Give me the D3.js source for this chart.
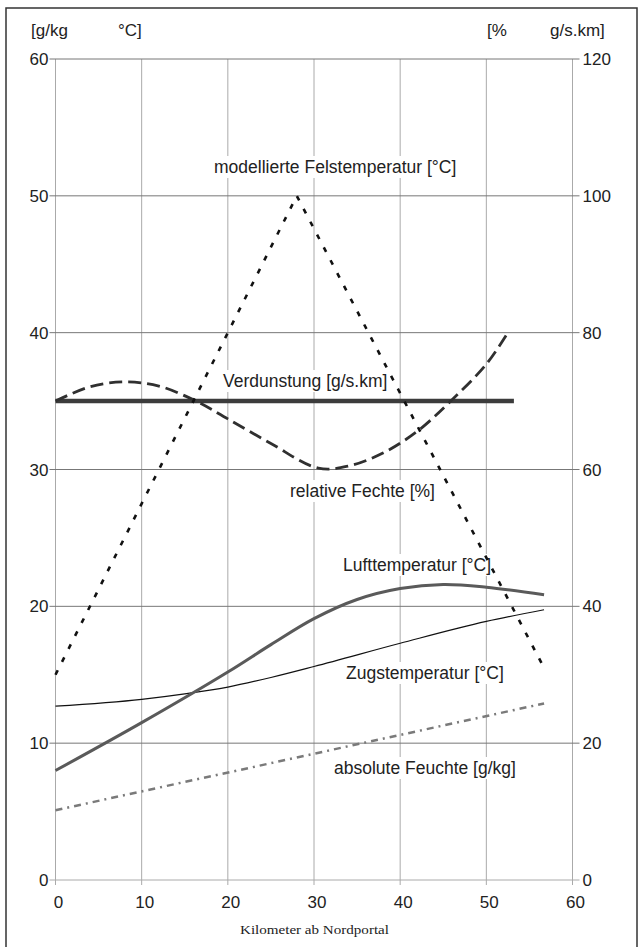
<!DOCTYPE html>
<html>
<head>
<meta charset="utf-8">
<script src="https://cdn.jsdelivr.net/npm/d3@7.9.0/dist/d3.min.js"></script>
<style>
  body { margin: 0; background: #fff; }
  svg text { font-family: "Liberation Sans", Arial, sans-serif; fill: #222; }
</style>
</head>
<body>
<svg id="chart" width="643" height="947"></svg>
<script>
// ticks
const xTicks = [0, 10, 20, 30, 40, 50, 60];
const leftTicks = [0, 10, 20, 30, 40, 50, 60];
const rightTicks = [0, 20, 40, 60, 80, 100, 120];

// modellierte Felstemperatur [°C] (left axis)
const felsKm = [0, 28, 56.7];
const felsTemp = [15, 50, 15.5];

// Verdunstung [g/s.km] (right axis)
const verdKm = [0, 53.2];
const verdunstung = [70, 70];

// relative Feuchte [%] (right axis)
const relKm = [0, 4, 8, 12, 16.3, 20, 25, 30.5, 34, 38, 42, 45.7, 50, 52.6];
const relFeuchte = [70, 72.1, 72.8, 72.2, 70, 67.4, 63.8, 60.2, 60.5, 62.4, 65.6, 69.8, 75.4, 80.2];

// Lufttemperatur [°C] (left axis)
const luftKm = [0, 10, 20, 25, 30, 35, 40, 45, 50, 56.7];
const luftTemp = [8, 11.5, 15.2, 17.2, 19.1, 20.5, 21.3, 21.6, 21.4, 20.85];

// Zugstemperatur [°C] (left axis)
const zugKm = [0, 10, 15, 20, 25, 30, 40, 50, 56.7];
const zugTemp = [12.7, 13.2, 13.6, 14.1, 14.8, 15.6, 17.3, 18.9, 19.75];

// absolute Feuchte [g/kg] (left axis)
const absKm = [0, 56.7];
const absFeuchte = [5.1, 12.9];

const svg = d3.select('#chart');

// frame around the whole figure
svg.append('rect')
  .attr('x', 6).attr('y', 8).attr('width', 631).attr('height', 945)
  .attr('fill', 'none').attr('stroke', '#333').attr('stroke-width', 1.5);

const x = d3.scaleLinear().domain([0, 60]).range([55.5, 572.5]);
const yL = d3.scaleLinear().domain([0, 60]).range([880, 59]);
const yR = d3.scaleLinear().domain([0, 120]).range([880, 59]);

// grid
svg.append('g').selectAll('line').data(xTicks).join('line')
  .attr('x1', d => x(d)).attr('x2', d => x(d))
  .attr('y1', yL(60)).attr('y2', yL(0) + 5)
  .attr('stroke', '#aaa').attr('stroke-width', 1);

svg.append('g').selectAll('line').data(leftTicks).join('line')
  .attr('x1', x(0) - 6).attr('x2', x(60) + 7)
  .attr('y1', d => yL(d)).attr('y2', d => yL(d))
  .attr('stroke', d => d === 0 ? '#aaa' : '#777').attr('stroke-width', 1);

// tick labels
svg.append('g').selectAll('text').data(leftTicks).join('text')
  .attr('x', x(0) - 7).attr('y', d => yL(d) + 6)
  .attr('text-anchor', 'end').attr('font-size', 17)
  .text(d => d);

svg.append('g').selectAll('text').data(rightTicks).join('text')
  .attr('x', x(60) + 10).attr('y', d => yR(d) + 6)
  .attr('text-anchor', 'start').attr('font-size', 17)
  .text(d => d);

svg.append('g').selectAll('text').data(xTicks).join('text')
  .attr('x', d => x(d) + 3).attr('y', 908)
  .attr('text-anchor', 'middle').attr('font-size', 17)
  .text(d => d);

// unit headers
const headers = [
  ['[g/kg', 31], ['°C]', 118], ['[%', 487], ['g/s.km]', 550]
];
svg.append('g').selectAll('text').data(headers).join('text')
  .attr('x', d => d[1]).attr('y', 36)
  .attr('font-size', 17)
  .text(d => d[0]);

svg.append('text')
  .attr('x', 240).attr('y', 934)
  .attr('font-size', 12)
  .style('font-family', '"Liberation Serif", serif')
  .attr('textLength', 149).attr('lengthAdjust', 'spacingAndGlyphs')
  .text('Kilometer ab Nordportal');

// series labels with white boxes that cut the grid
const labels = [
  ['modellierte Felstemperatur [°C]', 214, 173],
  ['Verdunstung [g/s.km]', 223, 387],
  ['relative Fechte [%]', 290, 497],
  ['Lufttemperatur [°C]', 343, 571],
  ['Zugstemperatur [°C]', 346, 679],
  ['absolute Feuchte [g/kg]', 334, 774]
];
const lg = svg.append('g');
labels.forEach(([t, lx, ly]) => {
  const txt = lg.append('text').attr('x', lx).attr('y', ly)
    .attr('font-size', 17.5).text(t);
  const bb = txt.node().getBBox();
  lg.insert('rect', 'text')
    .attr('x', bb.x - 3).attr('y', bb.y - 1)
    .attr('width', bb.width + 6).attr('height', bb.height + 2)
    .attr('fill', '#fff');
});

// lines
function drawLine(kms, vals, yScale, curve, stroke, width, dash) {
  const pts = kms.map((k, i) => [k, vals[i]]);
  const line = d3.line().x(d => x(d[0])).y(d => yScale(d[1])).curve(curve);
  svg.append('path')
    .attr('d', line(pts))
    .attr('fill', 'none')
    .attr('stroke', stroke)
    .attr('stroke-width', width)
    .attr('stroke-dasharray', dash)
    .attr('stroke-linecap', 'butt');
}

drawLine(absKm, absFeuchte, yL, d3.curveLinear, '#7a7a7a', 2.5, '7,5,2,5');
drawLine(zugKm, zugTemp, yL, d3.curveMonotoneX, '#111', 1.2, null);
drawLine(luftKm, luftTemp, yL, d3.curveCatmullRom, '#5a5a5a', 3, null);
drawLine(verdKm, verdunstung, yR, d3.curveLinear, '#3c3c3c', 4.5, null);
drawLine(relKm, relFeuchte, yR, d3.curveCatmullRom, '#303030', 2.8, '13,6');
drawLine(felsKm, felsTemp, yL, d3.curveLinear, '#111', 2.6, '5,9.5');
</script>
</body>
</html>
